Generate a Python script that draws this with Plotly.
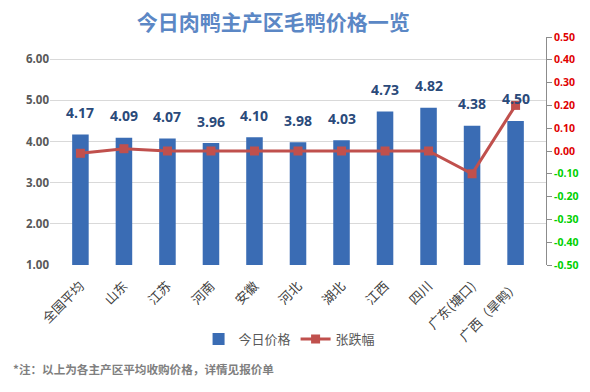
import plotly.graph_objects as go

categories = ["全国平均", "山东", "江苏", "河南", "安徽", "河北", "湖北", "江西", "四川", "广东(塘口)", "广西（旱鸭）"]
prices = [4.17, 4.09, 4.07, 3.96, 4.10, 3.98, 4.03, 4.73, 4.82, 4.38, 4.50]
changes = [-0.01, 0.01, 0.00, 0.00, 0.00, 0.00, 0.00, 0.00, 0.00, -0.10, 0.20]
left_ticks = [1, 2, 3, 4, 5, 6]
right_ticks = [-0.5, -0.4, -0.3, -0.2, -0.1, 0.0, 0.1, 0.2, 0.3, 0.4, 0.5]

CJK = "Noto Sans CJK SC"

def rlabel(v):
    color = "#00D000" if v < 0 else "#E00000"
    return f"<span style='color:{color}'><b>{v:.2f}</b></span>"

fig = go.Figure()
fig.add_trace(go.Bar(
    x=categories, y=prices, name="今日价格",
    marker=dict(color="#3A6CB4", line=dict(width=0)),
    width=0.38,
))
fig.add_trace(go.Scatter(
    x=categories, y=changes, name="张跌幅", yaxis="y2",
    mode="lines+markers",
    line=dict(color="#C0504D", width=3),
    marker=dict(symbol="square", size=9, color="#C0504D"),
))

for c, p in zip(categories, prices):
    fig.add_annotation(
        x=c, y=p, xref="x", yref="y", text=f"<b>{p:.2f}</b>",
        showarrow=False, yshift=22,
        font=dict(family="Open Sans", size=14, color="#2A4A7A"),
    )

fig.add_annotation(
    xref="paper", yref="paper", x=-0.078, y=-0.456, xanchor="left", yanchor="middle",
    text="<b>*注：以上为各主产区平均收购价格，详情见报价单</b>", showarrow=False,
    font=dict(family=CJK, size=11.6, color="#7F7F7F"),
)

fig.update_layout(
    width=590, height=392,
    margin=dict(l=50, r=41, t=37, b=127),
    paper_bgcolor="white", plot_bgcolor="white",
    title=dict(
        text="<b>今日肉鸭主产区毛鸭价格一览</b>",
        x=0.463, y=0.941, xref="container", yref="container",
        xanchor="center", yanchor="middle",
        font=dict(family=CJK, size=21, color="#5B87C5"),
    ),
    showlegend=True,
    legend=dict(
        orientation="h", x=0.483, y=-0.325, xanchor="center", yanchor="middle",
        font=dict(family=CJK, size=13, color="#595959"),
        bgcolor="rgba(0,0,0,0)",
    ),
    xaxis=dict(
        tickangle=-45, tickfont=dict(family=CJK, size=13, color="#404040"),
        showgrid=False, showline=False, ticks="", ticklabelstandoff=10,
        automargin=False,
    ),
    yaxis=dict(
        range=[1, 6.537], tickvals=left_ticks,
        ticktext=[f"<b>{v:.2f}</b>" for v in left_ticks],
        tickfont=dict(family="Open Sans", size=11.5, color="#595959"),
        showgrid=True, gridcolor="#D9D9D9", gridwidth=1,
        zeroline=False, showline=False, ticks="",
    ),
    yaxis2=dict(
        range=[-0.5, 0.5], overlaying="y", side="right",
        tickvals=right_ticks, ticktext=[rlabel(v) for v in right_ticks],
        tickfont=dict(family="Open Sans", size=10.5),
        showgrid=False, zeroline=False,
        showline=True, linecolor="#8C8C8C", linewidth=1,
        ticks="outside", ticklen=5, tickcolor="#8C8C8C",
    ),
    bargap=0.6,
)

fig.write_html(
    "out.html",
    config={"displayModeBar": False},
    post_script="document.body.style.margin='0';",
)
